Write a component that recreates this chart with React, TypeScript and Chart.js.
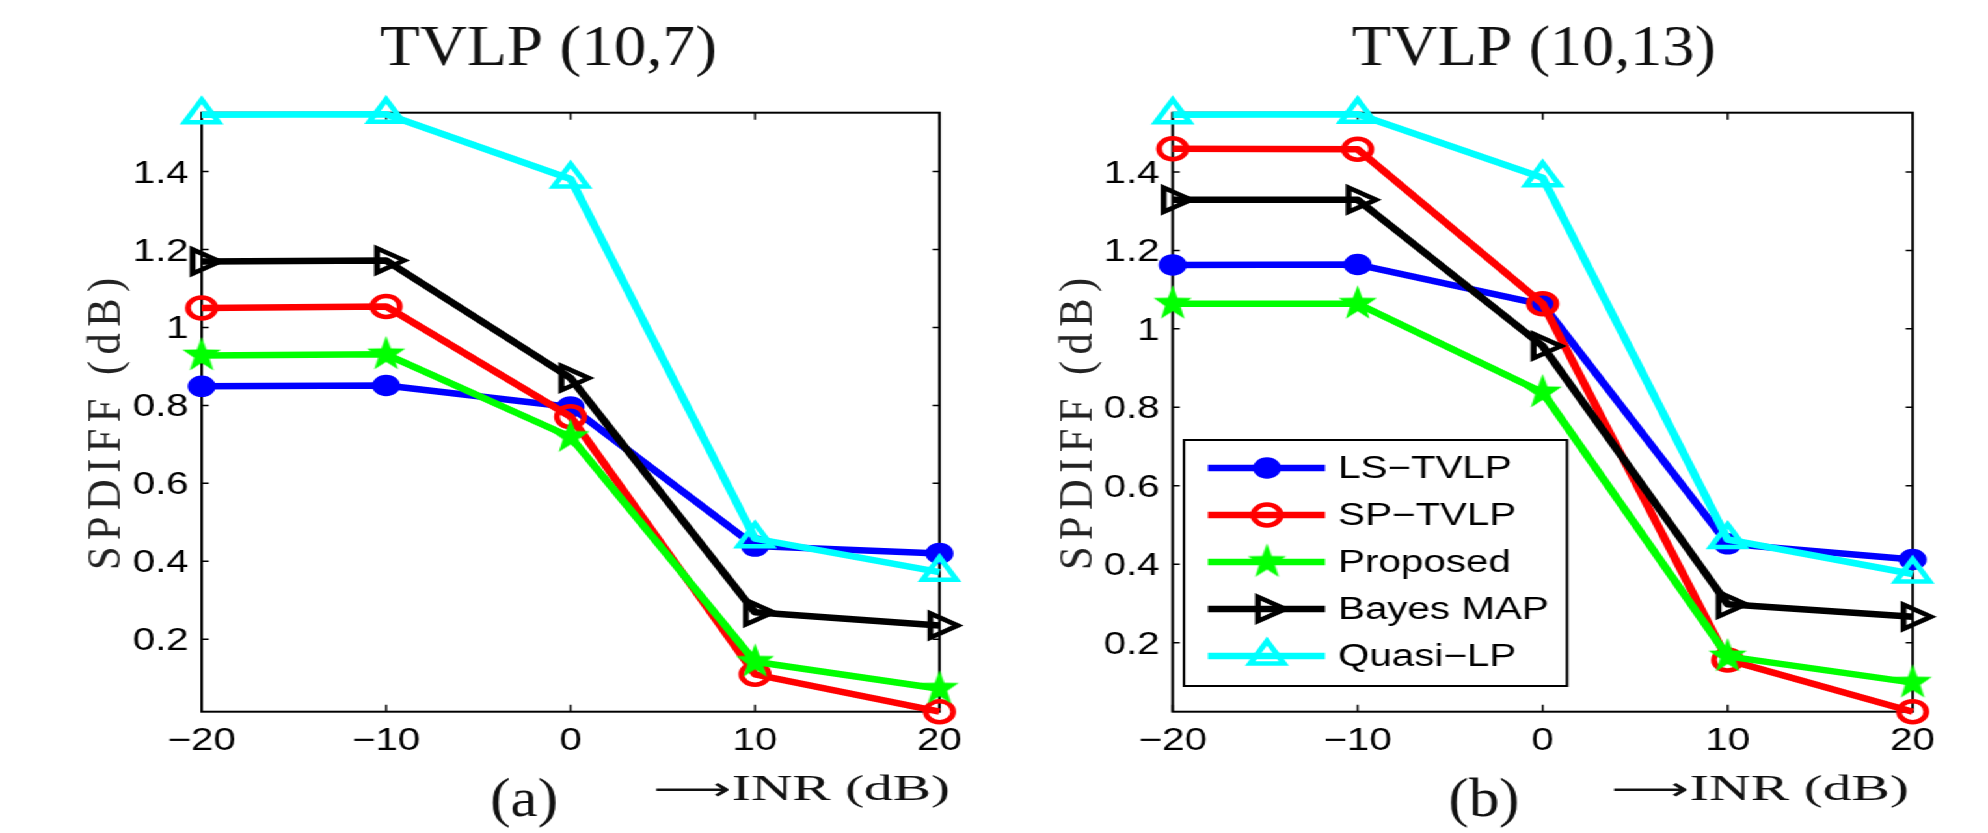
import React, { useEffect, useRef } from 'react';
import { Chart, registerables } from 'chart.js';
import { drawPoint } from 'chart.js/helpers';

Chart.register(...registerables);

// ---------------- data ----------------
const INR_DB = [-20, -10, 0, 10, 20];
const X_TICKS = [-20, -10, 0, 10, 20];
const X_TICK_LABELS = ['−20', '−10', '0', '10', '20'];
const Y_TICKS = [0.2, 0.4, 0.6, 0.8, 1, 1.2, 1.4];
const Y_TICK_LABELS = ['0.2', '0.4', '0.6', '0.8', '1', '1.2', '1.4'];
const SERIES_NAMES = ['LS−TVLP', 'SP−TVLP', 'Proposed', 'Bayes MAP', 'Quasi−LP'];
const PANEL_TITLES = ['TVLP (10,7)', 'TVLP (10,13)'];
const PANEL_LETTERS = ['(a)', '(b)'];
const X_LABEL_ARROW = '⟶';
const X_LABEL = 'INR (dB)';
const Y_LABEL = 'SPDIFF (dB)';

// panel (a): TVLP (10,7)
const LS_TVLP_A = [0.849, 0.851, 0.796, 0.439, 0.420];
const SP_TVLP_A = [1.050, 1.054, 0.771, 0.110, 0.014];
const PROPOSED_A = [0.928, 0.931, 0.719, 0.142, 0.073];
const BAYES_MAP_A = [1.169, 1.172, 0.870, 0.269, 0.235];
const QUASI_LP_A = [1.546, 1.547, 1.381, 0.458, 0.372];
const Y_LIMITS_A = [0.014, 1.551];

// panel (b): TVLP (10,13)
const LS_TVLP_B = [1.163, 1.164, 1.062, 0.452, 0.412];
const SP_TVLP_B = [1.459, 1.458, 1.064, 0.156, 0.024];
const PROPOSED_B = [1.064, 1.064, 0.838, 0.165, 0.098];
const BAYES_MAP_B = [1.329, 1.329, 0.956, 0.298, 0.266];
const QUASI_LP_B = [1.546, 1.547, 1.385, 0.463, 0.375];
const Y_LIMITS_B = [0.024, 1.551];

const PANEL_VALUES = [
  [LS_TVLP_A, SP_TVLP_A, PROPOSED_A, BAYES_MAP_A, QUASI_LP_A],
  [LS_TVLP_B, SP_TVLP_B, PROPOSED_B, BAYES_MAP_B, QUASI_LP_B],
];
const PANEL_LIMITS = [Y_LIMITS_A, Y_LIMITS_B];

// ---------------- styles / layout ----------------
const STRETCH = 994 / 764; // the figure is stretched horizontally
const PANEL_W = 764;
const H = 833;
const LINE_W = 6.5;
const TICK_FONT = { family: '"Liberation Sans", Arial, sans-serif', size: 31 };
const SERIF = '"Liberation Serif", "Times New Roman", serif';

const SERIES_STYLE = [
  { color: '#0000ff', shape: 'circle', radius: 10, bw: 1.5, fill: true, rot: 0 },
  { color: '#ff0000', shape: 'circle', radius: 10.5, bw: 4.5, fill: false, rot: 0 },
  { color: '#00ff00', shape: 'star', radius: 17, bw: 0, fill: true, rot: 0 },
  { color: '#000000', shape: 'triangle', radius: 14, bw: 4.5, fill: false, rot: 90 },
  { color: '#00ffff', shape: 'triangle', radius: 15, bw: 4.5, fill: false, rot: 0 },
];

const LAYOUT = [
  { caLeft: 155.0, padRight: 41.9, titleX: 421.6, titleW: 259.0, letterX: 402.8, letterW: 52.3, arrowX: 501.9, labelEnd: 730.2, legend: false },
  { caLeft: 137.35, padRight: 57.9, titleX: 415.0, titleW: 279.8, letterX: 376.6, letterW: 54.6, arrowX: 474.2, labelEnd: 703.3, legend: true },
];
const TOP = 112.7;
const X_AXIS_H = 121.3;

let starCache: HTMLCanvasElement | null = null;
function starImage(color: string): HTMLCanvasElement {
  if (starCache) return starCache;
  const rx = 15.5, ry = 18.5;
  const c = document.createElement('canvas');
  c.width = Math.ceil(rx * 2 + 2);
  c.height = Math.ceil(ry * 2 + 2);
  const g = c.getContext('2d')!;
  const cx = c.width / 2, cy = c.height / 2;
  g.beginPath();
  for (let k = 0; k < 10; k++) {
    const a = -Math.PI / 2 + (k * Math.PI) / 5;
    const f = k % 2 === 0 ? 1 : 0.4;
    const x = cx + rx * f * Math.cos(a);
    const y = cy + ry * f * Math.sin(a);
    if (k === 0) g.moveTo(x, y); else g.lineTo(x, y);
  }
  g.closePath();
  g.fillStyle = color;
  g.fill();
  starCache = c;
  return c;
}

function pointStyleOf(i: number): any {
  const st = SERIES_STYLE[i];
  return st.shape === 'star' ? starImage(st.color) : st.shape;
}

function fitText(
  ctx: CanvasRenderingContext2D,
  text: string,
  x: number,
  y: number,
  o: { size: number; family: string; width: number; align: 'left' | 'center'; color: string; spacing?: number; rotate?: boolean }
) {
  ctx.save();
  ctx.font = `${o.size}px ${o.family}`;
  const sp = o.spacing || 0;
  (ctx as any).letterSpacing = `${sp}px`;
  const natural = ctx.measureText(text).width - sp;
  const sx = o.width / natural;
  ctx.translate(x, y);
  if (o.rotate) ctx.rotate(-Math.PI / 2);
  ctx.scale(sx, 1);
  ctx.textAlign = 'left';
  ctx.textBaseline = 'alphabetic';
  ctx.fillStyle = o.color;
  ctx.fillText(text, o.align === 'center' ? -natural / 2 : 0, 0);
  ctx.restore();
}

function buildConfig(p: number): any {
  const lay = LAYOUT[p];
  const values = PANEL_VALUES[p];
  const [yMin, yMax] = PANEL_LIMITS[p];

  const datasets = SERIES_NAMES.map((name, i) => {
    const st = SERIES_STYLE[i];
    return {
      label: name,
      data: INR_DB.map((x, k) => ({ x, y: values[i][k] })),
      borderColor: st.color,
      backgroundColor: st.color,
      borderWidth: LINE_W,
      borderJoinStyle: 'round',
      tension: 0,
      fill: false,
      clip: false,
      order: SERIES_NAMES.length - i,
      pointStyle: pointStyleOf(i),
      pointRadius: st.radius,
      pointRotation: st.rot,
      pointBorderWidth: st.bw,
      pointBorderColor: st.color,
      pointBackgroundColor: st.fill ? st.color : 'rgba(0,0,0,0)',
      pointHoverRadius: st.radius,
    };
  });

  const framePlugin = {
    id: 'frameTicks' + p,
    beforeDatasetsDraw(chart: any) {
      const { ctx, chartArea: ca, scales } = chart;
      ctx.save();
      ctx.strokeStyle = '#000';
      ctx.lineWidth = 2;
      ctx.strokeRect(ca.left, ca.top, ca.right - ca.left, ca.bottom - ca.top);
      ctx.lineWidth = 1.5;
      ctx.beginPath();
      X_TICKS.forEach((v) => {
        const px = scales.x.getPixelForValue(v);
        ctx.moveTo(px, ca.bottom);
        ctx.lineTo(px, ca.bottom - 7);
        ctx.moveTo(px, ca.top);
        ctx.lineTo(px, ca.top + 7);
      });
      Y_TICKS.forEach((v) => {
        const py = scales.y.getPixelForValue(v);
        ctx.moveTo(ca.left, py);
        ctx.lineTo(ca.left + 5.4, py);
        ctx.moveTo(ca.right, py);
        ctx.lineTo(ca.right - 5.4, py);
      });
      ctx.stroke();
      ctx.restore();
    },
  };

  const legendPlugin = {
    id: 'inlineLegend' + p,
    afterDatasetsDraw(chart: any) {
      if (!lay.legend) return;
      const { ctx, chartArea: ca } = chart;
      const left = ca.left + 8.7;
      const right = left + 294.4;
      const top = ca.top + 327.3;
      const bottom = ca.bottom - 25.7;
      ctx.save();
      ctx.fillStyle = '#ffffff';
      ctx.fillRect(left, top, right - left, bottom - top);
      ctx.strokeStyle = '#000';
      ctx.lineWidth = 2;
      ctx.strokeRect(left, top, right - left, bottom - top);
      SERIES_NAMES.forEach((name, i) => {
        const st = SERIES_STYLE[i];
        const y = top + 28 + i * 47;
        ctx.strokeStyle = st.color;
        ctx.lineWidth = LINE_W;
        ctx.lineCap = 'butt';
        ctx.beginPath();
        ctx.moveTo(left + 18.4, y);
        ctx.lineTo(left + 108.4, y);
        ctx.stroke();
        ctx.fillStyle = st.fill ? st.color : 'rgba(0,0,0,0)';
        ctx.strokeStyle = st.color;
        ctx.lineWidth = st.bw;
        drawPoint(ctx, { pointStyle: pointStyleOf(i), rotation: st.rot, radius: st.radius, borderWidth: st.bw } as any, left + 63.8, y);
        ctx.fillStyle = '#000';
        ctx.font = `${TICK_FONT.size}px ${TICK_FONT.family}`;
        ctx.textBaseline = 'middle';
        ctx.textAlign = 'left';
        ctx.fillText(name, left + 118.4, y + 1);
      });
      ctx.restore();
    },
  };

  const textPlugin = {
    id: 'texts' + p,
    afterDraw(chart: any) {
      const { ctx, chartArea: ca } = chart;
      fitText(ctx, PANEL_TITLES[p], lay.titleX, 65, { size: 57, family: SERIF, width: lay.titleW, align: 'center', color: '#111' });
      fitText(ctx, PANEL_LETTERS[p], lay.letterX, 816, { size: 54, family: SERIF, width: lay.letterW, align: 'center', color: '#111' });
      fitText(ctx, X_LABEL_ARROW, lay.arrowX, 800, { size: 32, family: '"DejaVu Sans", sans-serif', width: 60, align: 'left', color: '#111' });
      fitText(ctx, X_LABEL, lay.arrowX + 60.6, 800, { size: 35, family: SERIF, width: lay.labelEnd - lay.arrowX - 60.6, align: 'left', color: '#111' });
      fitText(ctx, Y_LABEL, ca.left - 62.8, 570, { size: 36, family: SERIF, width: 292, align: 'left', color: '#222', spacing: 5.5, rotate: true });
    },
  };

  return {
    type: 'line',
    data: { datasets },
    options: {
      animation: false,
      responsive: true,
      maintainAspectRatio: false,
      events: [],
      layout: { padding: { left: 0, right: lay.padRight, top: TOP, bottom: 0 } },
      plugins: { legend: { display: false }, tooltip: { enabled: false }, title: { display: false } },
      scales: {
        x: {
          type: 'linear',
          min: -20,
          max: 20,
          afterBuildTicks: (s: any) => { s.ticks = X_TICKS.map((v) => ({ value: v })); },
          afterFit: (s: any) => { s.height = X_AXIS_H; },
          ticks: {
            callback: (_v: any, i: number) => X_TICK_LABELS[i],
            font: TICK_FONT,
            color: '#000',
            padding: 11,
            autoSkip: false,
            maxRotation: 0,
            minRotation: 0,
          },
          grid: { display: false, drawTicks: false },
          border: { display: false },
        },
        y: {
          type: 'linear',
          min: yMin,
          max: yMax,
          afterBuildTicks: (s: any) => { s.ticks = Y_TICKS.map((v) => ({ value: v })); },
          afterFit: (s: any) => { s.width = lay.caLeft; },
          ticks: {
            callback: (_v: any, i: number) => Y_TICK_LABELS[i],
            font: TICK_FONT,
            color: '#000',
            padding: 10,
            labelOffset: 2.5,
            autoSkip: false,
          },
          grid: { display: false, drawTicks: false },
          border: { display: false },
        },
      },
    },
    plugins: [framePlugin, legendPlugin, textPlugin],
  };
}

function Panel({ index }: { index: number }) {
  const ref = useRef<HTMLCanvasElement>(null);
  useEffect(() => {
    const chart = new Chart(ref.current as HTMLCanvasElement, buildConfig(index));
    return () => chart.destroy();
  }, [index]);
  return (
    <div style={{ position: 'relative', width: PANEL_W, height: H, flex: 'none' }}>
      <canvas ref={ref} />
    </div>
  );
}

export default function App() {
  return (
    <div style={{ position: 'absolute', left: 0, top: 0, width: 1988, height: H, overflow: 'hidden', background: '#fff' }}>
      <div
        style={{
          display: 'flex',
          width: PANEL_W * 2,
          height: H,
          transform: `scaleX(${STRETCH})`,
          transformOrigin: '0 0',
        }}
      >
        <Panel index={0} />
        <Panel index={1} />
      </div>
    </div>
  );
}
